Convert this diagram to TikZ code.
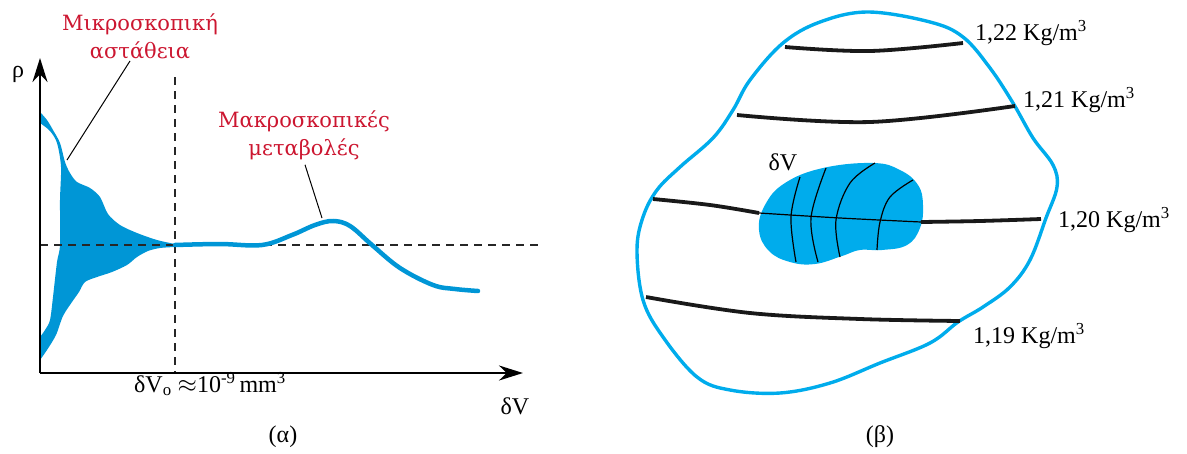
\documentclass[tikz,border=0pt]{standalone}
\usepackage{fontspec}
\setmainfont{Liberation Serif}
\newfontfamily\greeklbl{DejaVu Serif}
\usetikzlibrary{arrows.meta}
\definecolor{fluctblue}{RGB}{0,150,214}
\definecolor{regioncyan}{RGB}{0,172,236}
\definecolor{lblred}{RGB}{204,22,48}
\tikzset{
  axis/.style={line width=2.4pt,-{Stealth[length=24pt,width=15pt]}},
  guide/.style={line width=1.3pt,dash pattern=on 8pt off 6pt,black!85},
  redlbl/.style={text=lblred,font=\greeklbl\fontsize{21}{28}\selectfont,align=center,inner sep=0pt},
  txt/.style={font=\fontsize{24}{28}\selectfont,inner sep=0pt},
  isolbl/.style={txt,anchor=west},
  leader/.style={line width=1pt},
  curve/.style={line width=4.5pt,fluctblue,line cap=round},
  isoline/.style={line width=3.8pt,black!90},
  thinline/.style={line width=1.2pt},
  outline/.style={line width=3.4pt,regioncyan}
}
\begin{document}
\begin{tikzpicture}[x=1pt,y=-1pt]
  \useasboundingbox (0,0) rectangle (1187,453);

  % (a)
  \fill[fluctblue] plot[smooth,tension=0.5] coordinates {(40,112) (47,120) (53,130) (60,143) (65,162) (70,173) (77,182) (90,188) (100,197) (108,214) (120,225) (137,233) (157,240) (175,244)}
    -- plot[smooth,tension=0.5] coordinates {(175,247) (160,248) (148,251) (137,257) (127,265) (112,272) (97,277) (85,282) (79,292) (72,302) (63,316) (56,335) (47,350) (40,360)}
    -- plot[smooth,tension=0.5] coordinates {(40,337) (45,330) (50,320) (53,297) (57,262) (60,245) (60,200) (61,167) (57,143) (50,131) (40,123)} -- cycle;

  \coordinate (orig) at (40,373);
  \coordinate (xend) at (523,373);
  \coordinate (yend) at (40,58);
  \coordinate (vtop) at (175,77);
  \coordinate (vbot) at (175,373);
  \coordinate (hl) at (40,245);
  \coordinate (hr) at (543,245);
  \draw[guide] (hl) -- (hr);
  \draw[guide] (vtop) -- (vbot);
  \draw[curve] plot[smooth,tension=0.6] coordinates {(175,245) (220,244) (262,245) (292,235) (315,225) (333,221) (350,226) (372,245) (400,268) (433,285) (455,289) (478,291)};
  \draw[axis] (orig) -- (yend);
  \draw[axis] (orig) -- (xend);

  \node[txt] (rho) at (18,74) {ρ};
  \node[txt] (dvaxis) at (515,406) {δV};
  \node[txt] (dvo) at (210,384) {δV\textsubscript{o} $\approx$10\textsuperscript{-9}\,mm\textsuperscript{3}};
  \node[txt] (capa) at (283,437) {(α)};
  \node[redlbl] (micro) at (140,36) {Μικροσκοπική\\αστάθεια};
  \node[redlbl] (macro) at (304,135) {Μακροσκοπικές\\μεταβολές};
  \coordinate (mtip) at (67,160);
  \coordinate (ctip) at (322,218);
  \draw[leader] ([xshift=-10pt,yshift=-2pt]micro.south) -- (mtip);
  \draw[leader] ([xshift=1pt,yshift=-5pt]macro.south) -- (ctip);

  % (b)
  \draw[outline] plot[smooth cycle,tension=0.6] coordinates {(868,12) (930,22) (963,37) (990,68) (1013,103) (1033,138) (1053,165) (1057,187) (1046,218) (1030,260) (1010,287) (983,307) (958,322) (930,343) (880,363) (830,383) (780,393) (730,390) (697,377) (663,337) (643,300) (637,250) (643,217) (657,190) (680,167) (713,138) (733,110) (750,80) (783,43) (820,22)};

  \fill[regioncyan] plot[smooth cycle,tension=0.7] coordinates {(873,163) (900,170) (918,185) (923,205) (920,228) (907,245) (882,250) (860,250) (842,256) (815,264) (790,262) (769,251) (759,230) (765,205) (785,183) (823,168)};

  \draw[isoline] plot[smooth,tension=0.6] coordinates {(785,47) (870,51) (963,43)};
  \draw[isoline] plot[smooth,tension=0.6] coordinates {(737,115) (870,122) (1015,106)};
  \draw[isoline] plot[smooth,tension=0.6] coordinates {(653,199) (710,205) (759,213)};
  \draw[isoline] plot[smooth,tension=0.6] coordinates {(921,222) (980,221) (1041,219)};
  \draw[isoline] plot[smooth,tension=0.6] coordinates {(646,297) (750,313) (860,319) (960,321)};

  \draw[thinline] plot[smooth,tension=0.6] coordinates {(759,213) (840,218) (921,222)};
  \draw[thinline] plot[smooth,tension=0.6] coordinates {(800,177) (791,217) (796,262)};
  \draw[thinline] plot[smooth,tension=0.6] coordinates {(826,168) (811,218) (818,262)};
  \draw[thinline] plot[smooth,tension=0.6] coordinates {(875,163) (850,183) (836,220) (840,257)};
  \draw[thinline] plot[smooth,tension=0.6] coordinates {(913,180) (890,197) (880,222) (877,250)};

  \node[txt] (dv) at (783,162) {δV};
  \node[isolbl] (l122) at (975,33) {1,22 Kg/m\textsuperscript{3}};
  \node[isolbl] (l121) at (1023,100) {1,21 Kg/m\textsuperscript{3}};
  \node[isolbl] (l120) at (1058,220) {1,20 Kg/m\textsuperscript{3}};
  \node[isolbl] (l119) at (973,336) {1,19 Kg/m\textsuperscript{3}};
  \node[txt] (capb) at (880,437) {(β)};
\end{tikzpicture}
\end{document}
